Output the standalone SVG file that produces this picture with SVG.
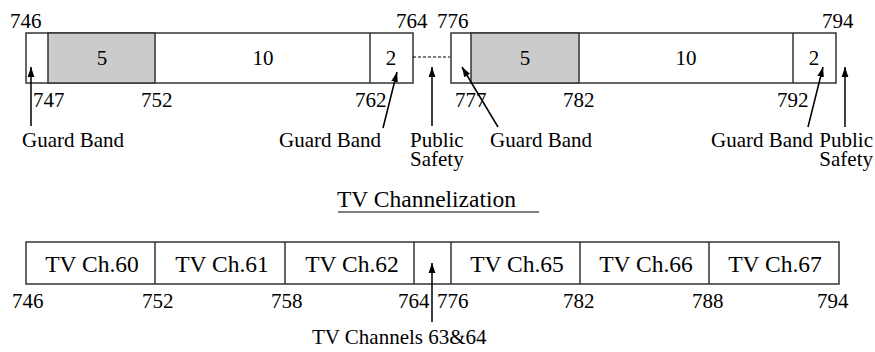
<svg xmlns="http://www.w3.org/2000/svg" width="875" height="352" viewBox="0 0 875 352">
<defs>
<marker id="ah" viewBox="0 0 10 10" refX="10" refY="5" markerWidth="10" markerHeight="10" markerUnits="userSpaceOnUse" orient="auto">
<path d="M0,1.6 L10,5 L0,8.4 Z" fill="#000"/>
</marker>
</defs>
<style>
text{fill:#000}
.n{font-size:21px}
.c{font-size:23.5px}
.box{fill:#fff;stroke:#333;stroke-width:1.5}
.div{stroke:#333;stroke-width:1.5}
.gray{fill:#cbcbcb;stroke:#333;stroke-width:1.5}
.arr{stroke:#000;stroke-width:1.5;fill:none;marker-end:url(#ah)}
</style>
<rect width="875" height="352" fill="#fff"/>
<g font-family="Liberation Serif, DejaVu Serif, serif">
<g id="band-left">
<rect class="box" x="26" y="33" width="387" height="50"/>
<rect class="gray" x="48" y="33" width="107" height="50"/>
<line class="div" x1="370" y1="33" x2="370" y2="83"/>
<text class="n" x="102" y="65" text-anchor="middle">5</text>
<text class="n" x="263" y="65" text-anchor="middle">10</text>
<text class="n" x="391" y="65" text-anchor="middle">2</text>
<text class="n" x="10" y="28">746</text>
<text class="n" x="396" y="28">764</text>
<text class="n" x="33" y="107">747</text>
<text class="n" x="141" y="107">752</text>
<text class="n" x="355" y="107">762</text>
</g>

<g id="band-right">
<rect class="box" x="451" y="33" width="385" height="50"/>
<rect class="gray" x="471" y="33" width="108" height="50"/>
<line class="div" x1="793" y1="33" x2="793" y2="83"/>
<text class="n" x="525" y="65" text-anchor="middle">5</text>
<text class="n" x="686" y="65" text-anchor="middle">10</text>
<text class="n" x="814" y="65" text-anchor="middle">2</text>
<text class="n" x="437" y="28">776</text>
<text class="n" x="822" y="28">794</text>
<text class="n" x="455" y="107">777</text>
<text class="n" x="563" y="107">782</text>
<text class="n" x="777" y="107">792</text>
</g>

<g id="labels-top">
<text class="n" x="22" y="147">Guard Band</text>
<text class="n" x="279" y="147">Guard Band</text>
<text class="n" x="410" y="147">Public<tspan x="410" dy="19">Safety</tspan></text>
<text class="n" x="490" y="147">Guard Band</text>
<text class="n" x="711" y="147">Guard Band</text>
<text class="n" x="873" y="147" text-anchor="end">Public<tspan x="873" dy="19">Safety</tspan></text>
</g>

<g id="title">
<text class="c" x="337" y="207">TV Channelization</text>
<line x1="338" y1="212" x2="539" y2="212" stroke="#000" stroke-width="1"/>
</g>

<g id="tv-band">
<rect class="box" x="26" y="242" width="813" height="42"/>
<line class="div" x1="155" y1="242" x2="155" y2="284"/>
<line class="div" x1="285" y1="242" x2="285" y2="284"/>
<line class="div" x1="414" y1="242" x2="414" y2="284"/>
<line class="div" x1="451" y1="242" x2="451" y2="284"/>
<line class="div" x1="580" y1="242" x2="580" y2="284"/>
<line class="div" x1="709" y1="242" x2="709" y2="284"/>
<text class="c" x="92" y="272" text-anchor="middle">TV Ch.60</text>
<text class="c" x="222" y="272" text-anchor="middle">TV Ch.61</text>
<text class="c" x="352" y="272" text-anchor="middle">TV Ch.62</text>
<text class="c" x="517" y="272" text-anchor="middle">TV Ch.65</text>
<text class="c" x="646" y="272" text-anchor="middle">TV Ch.66</text>
<text class="c" x="775" y="272" text-anchor="middle">TV Ch.67</text>
<text class="n" x="12" y="308">746</text>
<text class="n" x="142" y="308">752</text>
<text class="n" x="271" y="308">758</text>
<text class="n" x="398" y="308">764</text>
<text class="n" x="437" y="308">776</text>
<text class="n" x="563" y="308">782</text>
<text class="n" x="692" y="308">788</text>
<text class="n" x="817" y="308">794</text>
<text class="n" x="312" y="344">TV Channels 63&amp;64</text>
</g>
</g>
<g id="connectors">
<line x1="413" y1="57" x2="450" y2="57" stroke="#000" stroke-width="1" stroke-dasharray="3,2"/>
<line class="arr" x1="31" y1="126" x2="31" y2="67"/>
<line class="arr" x1="383" y1="128" x2="397" y2="72"/>
<line class="arr" x1="432" y1="126" x2="432" y2="67"/>
<line class="arr" x1="498" y1="127" x2="462" y2="67"/>
<line class="arr" x1="808" y1="127" x2="823" y2="67"/>
<line class="arr" x1="845" y1="127" x2="845" y2="67"/>
<line class="arr" x1="432" y1="322" x2="432" y2="263"/>
</g>
</svg>
